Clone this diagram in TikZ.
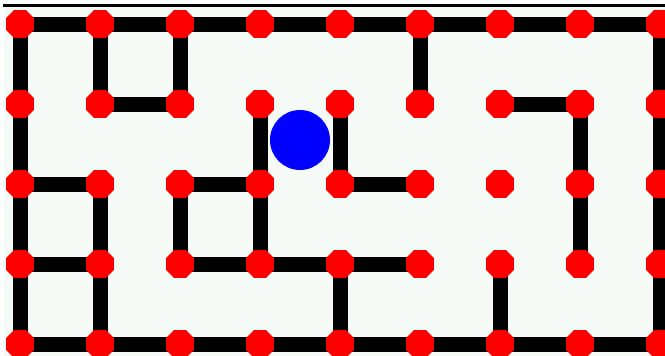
\documentclass[tikz,border=0pt]{standalone}
\usetikzlibrary{shapes.geometric}
\definecolor{bgc}{HTML}{F5FAF7}
\definecolor{dotred}{HTML}{FF0000}
\begin{document}
\begin{tikzpicture}[x=1pt,y=-1pt,
  dot/.style={regular polygon, regular polygon sides=8, minimum size=30.3pt, inner sep=0pt, fill=dotred, draw=none},
  wall/.style={line width=15pt, black},
  ball/.style={circle, minimum size=60pt, inner sep=0pt, fill=blue, draw=none}]
\useasboundingbox (0,0) rectangle (665,356);
\fill[white] (0,0) rectangle (665,356);
\fill[bgc] (3.5,7) rectangle (665,356);
\draw[line width=3pt] (3,5.5) -- (665,5.5);
% grid coordinates
\foreach \c in {0,...,8}{
  \foreach \r in {0,...,4}{
    \pgfmathsetmacro{\xx}{20+80*\c}
    \pgfmathsetmacro{\yy}{24+80*\r}
    \coordinate (p\c\r) at (\xx,\yy);
  }
}
% walls
\draw[wall] (p00) -- (p80);
\draw[wall] (p00) -- (p04);
\draw[wall] (p04) -- (p84);
\draw[wall] (p80) -- (p84);
\draw[wall] (p10) -- (p11) -- (p21) -- (p20);
\draw[wall] (p50) -- (p51);
\draw[wall] (p61) -- (p71) -- (p73);
\draw[wall] (p31) -- (p33);
\draw[wall] (p41) -- (p42) -- (p52);
\draw[wall] (p02) -- (p12) -- (p14);
\draw[wall] (p03) -- (p13);
\draw[wall] (p23) -- (p22) -- (p32);
\draw[wall] (p23) -- (p53);
\draw[wall] (p43) -- (p44);
\draw[wall] (p63) -- (p64);
% dots
\foreach \c in {0,...,8}{
  \foreach \r in {0,...,4}{
    \node[dot] (d\c\r) at (p\c\r) {};
  }
}
\node[ball] (ball) at (300,140) {};
\end{tikzpicture}
\end{document}
